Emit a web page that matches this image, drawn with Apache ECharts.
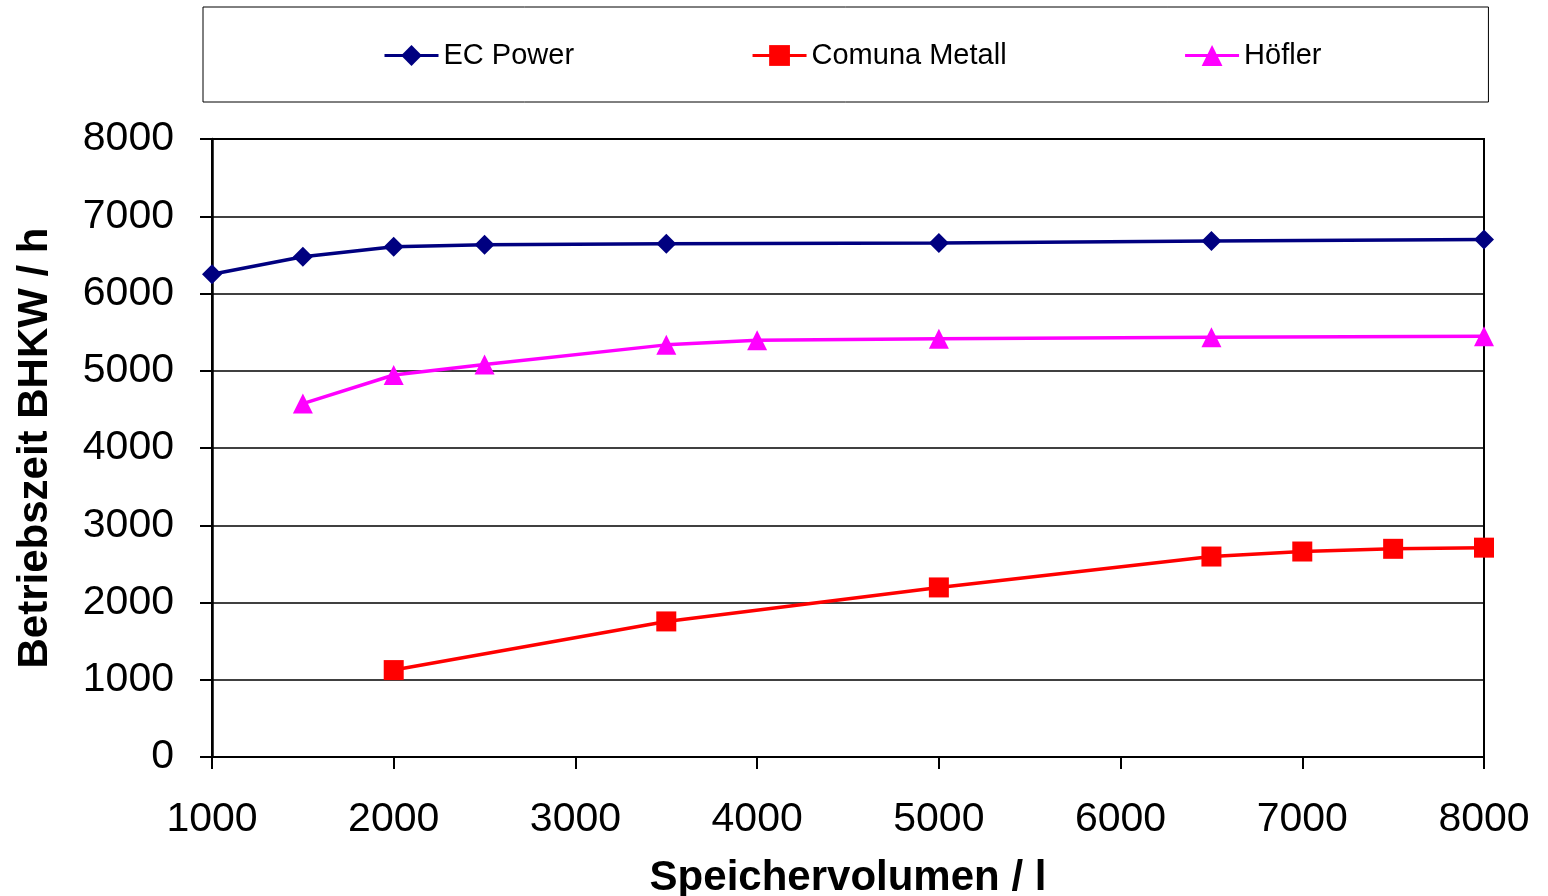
<!DOCTYPE html>
<html>
<head>
<meta charset="utf-8">
<script src="https://cdn.jsdelivr.net/npm/echarts@6/dist/echarts.min.js"></script>
<style>
html,body{margin:0;padding:0;background:#fff;}
#chart{width:1548px;height:896px;}
</style>
</head>
<body>
<div id="chart"></div>
<script>
const seriesNames = ['EC Power', 'Comuna Metall', 'Höfler'];
const xTicks = [1000, 2000, 3000, 4000, 5000, 6000, 7000, 8000];
const yTicks = [0, 1000, 2000, 3000, 4000, 5000, 6000, 7000, 8000];

const ecX = [1000, 1500, 2000, 2500, 3500, 5000, 6500, 8000];
const ecY = [6250, 6475, 6605, 6630, 6645, 6655, 6680, 6700];

const comunaX = [2000, 3500, 5000, 6500, 7000, 7500, 8000];
const comunaY = [1125, 1755, 2195, 2595, 2660, 2695, 2710];

const hoeflerX = [1500, 2000, 2500, 3500, 4000, 5000, 6500, 8000];
const hoeflerY = [4575, 4945, 5080, 5335, 5395, 5415, 5435, 5445];

const pair = (xs, ys) => xs.map((x, i) => [x, ys[i]]);

const chart = echarts.init(document.getElementById('chart'), null, {renderer: 'canvas'});
const font = 'Liberation Sans, Arial, sans-serif';

chart.setOption({
  animation: false,
  backgroundColor: '#fff',
  textStyle: {fontFamily: font},
  legend: {
    left: 203,
    top: 7,
    padding: [34, 167, 32, 180],
    itemGap: 177,
    itemWidth: 54,
    itemHeight: 26,
    borderColor: '#000',
    borderWidth: 1,
    lineStyle: {width: 3},
    textStyle: {fontSize: 29, color: '#000', fontFamily: font},
    data: seriesNames
  },
  grid: {
    left: 212, right: 64, top: 139, bottom: 139,
    outerBoundsMode: 'none',
    containLabel: false,
    show: true, borderColor: '#000', borderWidth: 2
  },
  xAxis: {
    type: 'value',
    min: xTicks[0], max: xTicks[xTicks.length - 1], interval: 1000,
    name: 'Speichervolumen / l',
    nameLocation: 'middle',
    nameGap: 100,
    nameTextStyle: {fontSize: 42, fontWeight: 'bold', color: '#000', fontFamily: font},
    axisLine: {lineStyle: {color: '#000', width: 2}},
    axisTick: {show: true, length: 12, lineStyle: {color: '#000', width: 2}},
    axisLabel: {fontSize: 41, color: '#000', margin: 42, fontFamily: font, formatter: v => String(v)},
    splitLine: {show: false}
  },
  yAxis: {
    type: 'value',
    min: yTicks[0], max: yTicks[yTicks.length - 1], interval: 1000,
    name: 'Betriebszeit BHKW / h',
    nameLocation: 'middle',
    nameGap: 156,
    nameTextStyle: {fontSize: 42, fontWeight: 'bold', color: '#000', fontFamily: font},
    axisLine: {show: true, lineStyle: {color: '#000', width: 2.5}},
    axisTick: {show: true, length: 12, lineStyle: {color: '#000', width: 2}},
    axisLabel: {fontSize: 41, color: '#000', margin: 38, fontFamily: font, formatter: v => String(v)},
    splitLine: {show: true, lineStyle: {color: '#000', width: 1.5}}
  },
  series: [
    {
      name: seriesNames[0], type: 'line', data: pair(ecX, ecY),
      symbol: 'diamond', symbolSize: 20, clip: false,
      lineStyle: {color: '#000080', width: 3.5},
      itemStyle: {color: '#000080'}
    },
    {
      name: seriesNames[1], type: 'line', data: pair(comunaX, comunaY),
      symbol: 'rect', symbolSize: 20, clip: false,
      lineStyle: {color: '#FF0000', width: 3.5},
      itemStyle: {color: '#FF0000'}
    },
    {
      name: seriesNames[2], type: 'line', data: pair(hoeflerX, hoeflerY),
      symbol: 'triangle', symbolSize: 20, clip: false,
      lineStyle: {color: '#FF00FF', width: 3.5},
      itemStyle: {color: '#FF00FF'}
    }
  ]
});
</script>
</body>
</html>
